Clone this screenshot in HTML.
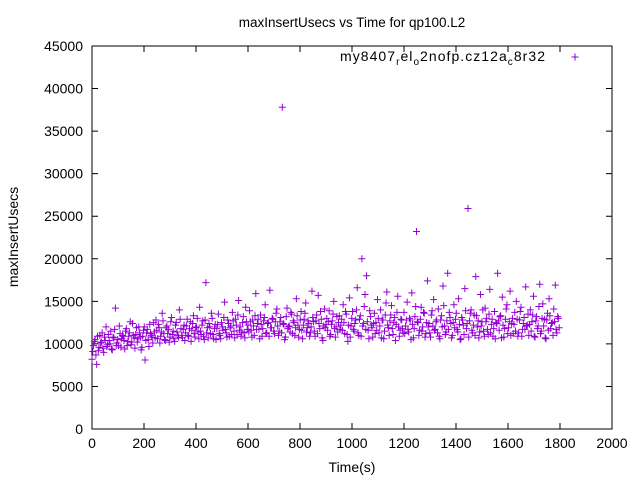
<!DOCTYPE html>
<html><head><meta charset="utf-8">
<style>
body{margin:0;background:#fff}
svg{display:block;font-family:"Liberation Sans",Arial,sans-serif}
</style></head>
<body>
<svg id="chart" width="640" height="480" viewBox="0 0 640 480" xmlns="http://www.w3.org/2000/svg">
<rect width="640" height="480" fill="#fff"/>
<text x="352" y="27" font-size="13.5" text-anchor="middle">maxInsertUsecs vs Time for qp100.L2</text>
<text x="352" y="472" font-size="14" text-anchor="middle">Time(s)</text>
<text transform="translate(18,237) rotate(-90)" font-size="14" text-anchor="middle">maxInsertUsecs</text>
<g id="axes"></g>
<g id="points"></g>
<g>
<text x="340" y="61" font-size="14" textLength="205" lengthAdjust="spacing">my8407<tspan font-size="10" dy="4">r</tspan><tspan dy="-4">el</tspan><tspan font-size="10" dy="4">o</tspan><tspan dy="-4">2nofp.cz12a</tspan><tspan font-size="10" dy="4">c</tspan><tspan dy="-4">8r32</tspan></text>
<path d="M571.5,57h7M575,53.5v7" stroke="#9400d3" stroke-width="1"/>
</g>
</svg>
<script>
const xTicks=[0,200,400,600,800,1000,1200,1400,1600,1800,2000];
const yTicks=[0,5000,10000,15000,20000,25000,30000,35000,40000,45000];
const times=[];for(let i=0;i<300;i++)times.push(i*6);
const times2=[];for(let i=0;i<300;i++)times2.push(i*6+3);
const values=[
8200,9800,10500,7600,9200,11000,10200,9500,10800,12000,9900,10400,11500,9300,10700,14200,10100,9800,11200,10600,
10900,9400,11800,10300,11300,9900,12400,10700,11100,10200,12000,10800,9600,11600,8100,11300,10500,12300,11000,10100,
11400,12800,10600,11900,10900,13600,11200,10400,12100,11700,10800,13100,11500,10300,12500,11000,14000,11800,10700,12200,
11300,12900,10900,12600,11600,13300,10800,12000,11400,14300,11100,12700,10500,17200,11900,12400,11200,13000,10600,12300,
11800,13500,11000,12500,11600,14900,11300,12800,10900,12100,13700,11500,12900,11100,15100,12000,11400,13200,10700,12600,
12200,13900,11600,12800,11000,15900,12400,11700,13400,10900,12700,14600,11300,12500,16300,11900,12900,11200,13600,12100,
11500,13100,37800,12300,10800,14200,12000,11400,13500,12700,11000,15300,12200,11700,13800,10600,12900,14800,11900,12400,
11300,16200,12600,10900,13400,15700,11800,12900,10400,14100,12300,11600,13900,11100,12700,15000,10800,13200,12500,11700,
12900,14600,11200,13500,10300,15400,12100,13800,11500,12800,16600,11000,13300,20000,12400,15800,18000,11600,13900,12200,
10800,13600,12500,15200,11300,14000,12800,10600,13400,16100,11900,12700,14500,11100,13100,12300,15600,10900,12900,11800,
13700,12100,14900,11400,12800,16000,10700,13200,23200,12500,11600,14300,12000,13600,11200,17400,12400,10800,13900,15200,
11700,12800,14100,10600,13300,16800,12100,11400,18300,13700,12400,11000,14600,12900,11700,15300,10500,13100,12200,16500,
11800,25900,12700,14000,11300,13400,17900,12000,10700,15800,12600,11500,14200,13000,11100,16400,12300,10900,13800,12500,
18300,11600,13300,15500,10800,12900,14600,11900,16200,12400,11200,13700,15000,10900,12800,14300,11700,13100,16700,12200,
11000,14000,12600,15600,10800,13200,12100,17000,11500,14700,12900,10600,13600,15300,11800,12500,14100,16900,11300,13000];
const values2=[
9100,10300,8700,10900,9600,10100,11300,9000,10400,9700,11100,10000,9400,10800,11700,9800,10500,12100,9600,11000,
10400,11500,9800,10900,12600,10200,11000,9500,11900,10600,11300,9300,10900,12000,10400,11700,9700,11200,10800,12500,
10700,11600,12300,10100,11400,12700,10500,11900,11200,10200,12600,11100,10600,12200,11400,10800,12900,11000,11700,10400,
12100,11000,11800,10300,12400,11200,11900,13000,10600,11500,12200,10900,12800,11300,10700,12000,13600,11100,11800,10500,
12300,11200,10600,12000,13100,11700,10800,12400,11900,11100,12700,10700,12200,13400,11600,10900,12500,11300,14300,11700,
11400,12600,10800,12100,13300,11700,12900,10600,12300,11800,13100,11200,12400,10900,11900,13000,11500,12600,14100,11000,
12600,11300,12400,10500,13200,11800,12100,13700,11200,12500,11900,13300,10800,12800,11600,12200,13600,11400,12700,10900,
12000,13100,11500,12700,11200,12400,13800,10700,12100,11900,13000,12600,10900,12300,13500,11800,12000,11400,13300,12200,
11600,12500,13800,11100,12200,10800,13000,11700,12400,14000,11300,12900,10900,12100,14400,11700,12600,10600,13200,11900,
12400,11200,11600,13000,12100,10700,12800,11500,14800,12200,11000,13400,11800,12500,10400,13700,12000,11600,12800,11300,
11200,12800,11700,13000,10500,12300,11800,14400,12600,11000,12900,11500,13700,10800,12500,12000,11300,13400,12100,11600,
12600,11300,10900,12800,12000,14500,11100,12700,11700,13100,10700,12500,11900,13600,11400,12300,10600,12800,11100,13900,
12400,10800,13600,11600,12200,11000,13300,12700,11400,12100,14000,10900,12600,11700,13500,11300,12900,11800,10600,12400,
12700,13200,10700,12200,11800,14100,11200,12600,11000,13000,12300,11500,12900,11300,13800,10900,12400,11700,12100,13500,
12300,11500,13400,10900,12700,11800,14400,11200,13000,12100,10700,12800,11600,13300,12400,11000,12600,11700,13200,11900];
const L=92,R=612,T=46,B=429;
const sx=v=>L+(v-0)/2000*(R-L);
const sy=v=>B-(v-0)/45000*(B-T);
const NS="http://www.w3.org/2000/svg";
const axes=document.getElementById('axes');
function mk(tag,attrs,parent){const e=document.createElementNS(NS,tag);for(const k in attrs)e.setAttribute(k,attrs[k]);parent.appendChild(e);return e;}
const frame=mk('rect',{x:L,y:T,width:R-L,height:B-T,fill:'none',stroke:'#000','stroke-width':1},axes);


xTicks.forEach(v=>{const x=sx(v);
 const t=mk('path',{d:`M${x},${B}v-6M${x},${T}v6`,stroke:'#000'},axes);
 
 
 const lb=mk('text',{x:x,y:B+19,'font-size':14,'text-anchor':'middle'},axes);lb.textContent=v;
 
 });
yTicks.forEach(v=>{const y=sy(v);
 const t=mk('path',{d:`M${L},${y}h6M${R},${y}h-6`,stroke:'#000'},axes);
 
 
 const lb=mk('text',{x:L-9,y:y+5,'font-size':14,'text-anchor':'end'},axes);lb.textContent=v;
 
 });
const pts=document.getElementById('points');
let d='';
times.forEach((t,i)=>{const x=sx(t),y=sy(values[i]);d+=`M${x-3.5},${y}h7M${x},${y-3.5}v7`;});
times2.forEach((t,i)=>{const x=sx(t),y=sy(values2[i]);d+=`M${x-3.5},${y}h7M${x},${y-3.5}v7`;});
const p=mk('path',{d:d,stroke:'#9400d3','stroke-width':1,fill:'none'},pts);


</script>
</body></html>
